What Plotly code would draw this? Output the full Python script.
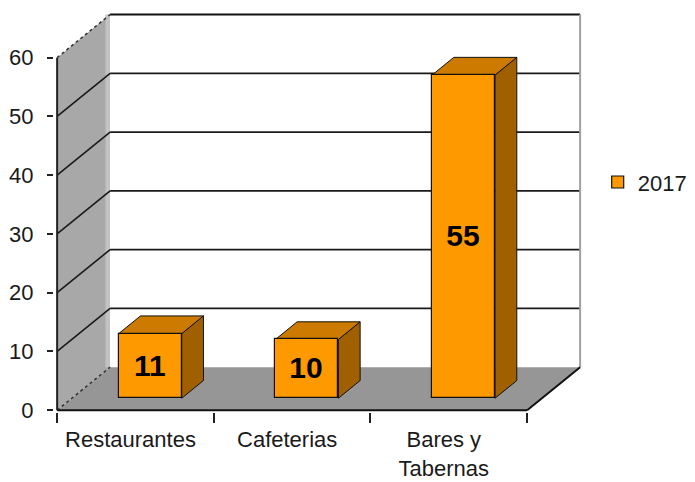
import plotly.graph_objects as go

# ---- data ----
categories = ["Restaurantes", "Cafeterias", "Bares y<br>Tabernas"]
values = [11, 10, 55]
series_name = "2017"
y_ticks = [0, 10, 20, 30, 40, 50, 60]

# ---- styling / geometry constants ----
ORANGE = "#FF9900"
TOP = "#CC7A00"
SIDE = "#A06000"
FLOOR = "#969696"
WALL = "#A8A8A8"
FONT = "Arial, Liberation Sans, sans-serif"
FS = 22

Y_MAX = 60
DX = 0.338          # depth offset along category axis
DY = 7.33           # depth offset along value axis
BAR_DEPTH0 = 0.279  # fraction of depth where bar front face sits
BAR_DEPTH = 0.41    # bar depth fraction
BAR_W = 0.402
BAR_SHIFT = BAR_DEPTH0 * DX
BAR_BASE = BAR_DEPTH0 * DY
bdx, bdy = BAR_DEPTH * DX, BAR_DEPTH * DY

X0, X1 = -0.5, len(categories) - 0.5


def poly(pts, fill, line_color=None, width=1, dash=None):
    path = "M " + " L ".join(f"{x},{y}" for x, y in pts) + " Z"
    line = dict(color=line_color or fill, width=width if line_color else 0)
    if dash:
        line["dash"] = dash
    return dict(type="path", path=path, xref="x", yref="y", fillcolor=fill,
                line=line, layer="below")


def seg(xa, ya, xb, yb, color="#222222", width=1.5, dash=None):
    line = dict(color=color, width=width)
    if dash:
        line["dash"] = dash
    return dict(type="line", x0=xa, y0=ya, x1=xb, y1=yb, xref="x", yref="y",
                line=line, layer="below")


shapes = []
# left wall
shapes.append(poly([(X0, 0), (X0, Y_MAX), (X0 + DX, Y_MAX + DY), (X0 + DX, DY)], WALL))
shapes.append(poly([(X0 + DX - 0.03, DY), (X0 + DX - 0.03, Y_MAX + DY),
                    (X0 + DX, Y_MAX + DY), (X0 + DX, DY)], "#C2C2C2"))
# back wall
shapes.append(poly([(X0 + DX, DY), (X0 + DX, Y_MAX + DY), (X1 + DX, Y_MAX + DY), (X1 + DX, DY)], "#FFFFFF"))
# floor
shapes.append(poly([(X0, 0), (X1, 0), (X1 + DX, DY), (X0 + DX, DY)], FLOOR))
# gridlines
for v in y_ticks[1:]:
    if v < Y_MAX:
        shapes.append(seg(X0 + DX, v + DY, X1 + DX, v + DY, "#1a1a1a", 1.6))
        shapes.append(seg(X0, v, X0 + DX, v + DY, "#1a1a1a", 1.6))
# top edges
shapes.append(seg(X0 + DX, Y_MAX + DY, X1 + DX, Y_MAX + DY, "#111111", 2))
shapes.append(seg(X0, Y_MAX, X0 + DX, Y_MAX + DY, "#333333", 1.5, "dot"))
# back wall right edge
shapes.append(seg(X1 + DX, DY, X1 + DX, Y_MAX + DY, "#A0A0A0", 2))
# floor edges
shapes.append(seg(X0, 0, X0 + DX, DY, "#333333", 1.5, "dot"))
shapes.append(seg(X1, 0, X1 + DX, DY, "#111111", 2))
shapes.append(seg(X0, 0, X1, 0, "#111111", 2))
# y axis line
shapes.append(seg(X0, 0, X0, Y_MAX, "#222222", 2))

# bar top and side faces
for i, v in enumerate(values):
    xa = i + BAR_SHIFT - BAR_W / 2
    xb = i + BAR_SHIFT + BAR_W / 2
    yt = v + BAR_BASE
    shapes.append(poly([(xb, BAR_BASE), (xb, yt), (xb + bdx, yt + bdy), (xb + bdx, BAR_BASE + bdy)],
                       SIDE, "#111111", 1))
    shapes.append(poly([(xa, yt), (xb, yt), (xb + bdx, yt + bdy), (xa + bdx, yt + bdy)],
                       TOP, "#111111", 1))

fig = go.Figure()
fig.add_trace(go.Bar(
    x=categories, y=values, base=[BAR_BASE] * len(values),
    width=BAR_W, offset=BAR_SHIFT - BAR_W / 2,
    name=series_name,
    marker=dict(color=ORANGE, line=dict(color="#111111", width=1.2)),
    text=[str(v) for v in values], texttemplate="<b>%{text}</b>",
    textposition="inside", insidetextanchor="middle", textangle=0,
    textfont=dict(family=FONT, size=30, color="#000000"),
    showlegend=True, hoverinfo="skip",
))

fig.update_layout(
    width=695, height=482,
    margin=dict(l=54, r=113, t=13, b=70, pad=0),
    paper_bgcolor="#FFFFFF", plot_bgcolor="rgba(0,0,0,0)",
    font=dict(family=FONT, size=FS, color="#1a1a1a"),
    shapes=shapes,
    bargap=0,
    legend=dict(xref="container", yref="container", x=0.860, y=0.622,
                xanchor="left", yanchor="middle",
                font=dict(size=FS, family=FONT, color="#1a1a1a"),
                bgcolor="rgba(0,0,0,0)", itemwidth=30),
    xaxis=dict(type="category", range=[-0.52, 2.85], tickson="boundaries",
               ticks="outside", ticklen=10, tickcolor="#222222", tickwidth=1.5,
               showgrid=False, zeroline=False, showline=False, automargin=False,
               tickfont=dict(size=FS, family=FONT, color="#1a1a1a"),
               ticklabelshift=-5, ticklabelstandoff=12),
    yaxis=dict(range=[-0.3, 67.6], tickvals=y_ticks, ticks="outside", ticklen=6,
               tickcolor="#222222", tickwidth=1.5, automargin=False,
               showgrid=False, zeroline=False, showline=False,
               tickfont=dict(size=FS, family=FONT, color="#1a1a1a"),
               ticklabelstandoff=9),
)

fig.write_html("out.html",
               config={"displayModeBar": False},
               post_script="document.body.style.margin='0';document.body.style.padding='0';")
